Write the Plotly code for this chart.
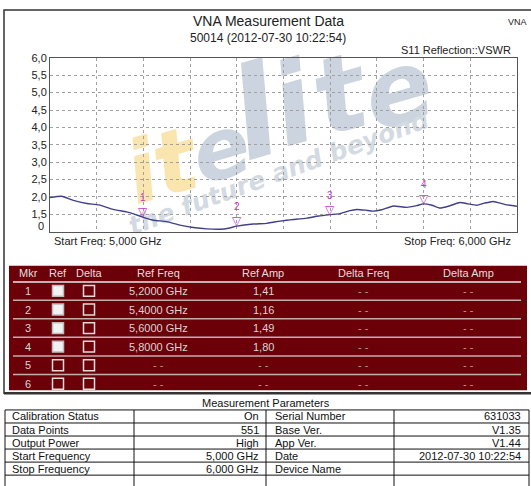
import plotly.graph_objects as go

W, H = 531, 486

# ---------------- data ----------------
freq_ghz = [5.000, 5.025, 5.050, 5.079, 5.105, 5.135, 5.164, 5.182, 5.200, 5.221,
            5.250, 5.278, 5.307, 5.336, 5.364, 5.382, 5.400, 5.435, 5.464, 5.480,
            5.507, 5.521, 5.550, 5.575, 5.600, 5.621, 5.640, 5.657, 5.675, 5.692,
            5.710, 5.735, 5.764, 5.785, 5.800, 5.818, 5.835, 5.855, 5.878, 5.895,
            5.914, 5.930, 5.949, 5.975, 6.000]
vswr = [1.98, 2.02, 1.90, 1.81, 1.77, 1.64, 1.57, 1.50, 1.41, 1.33,
        1.29, 1.19, 1.12, 1.08, 1.07, 1.10, 1.16, 1.22, 1.24, 1.28,
        1.33, 1.35, 1.39, 1.45, 1.49, 1.52, 1.60, 1.64, 1.62, 1.59,
        1.63, 1.74, 1.70, 1.75, 1.80, 1.76, 1.68, 1.74, 1.84, 1.80,
        1.76, 1.82, 1.87, 1.78, 1.73]

marker_ids = ["1", "2", "3", "4", "5", "6"]
marker_freq = [5.2, 5.4, 5.6, 5.8]
marker_amp = [1.41, 1.16, 1.49, 1.80]
marker_freq_text = ["5,2000 GHz", "5,4000 GHz", "5,6000 GHz", "5,8000 GHz", "- -", "- -"]
marker_amp_text = ["1,41", "1,16", "1,49", "1,80", "- -", "- -"]
delta_freq_text = ["- -"] * 6
delta_amp_text = ["- -"] * 6
ref_checked = [True, True, True, True, False, False]
table_headers = ["Mkr", "Ref", "Delta", "Ref Freq", "Ref Amp", "Delta Freq", "Delta Amp"]

y_tickvals = [1.5, 2.0, 2.5, 3.0, 3.5, 4.0, 4.5, 5.0, 5.5, 6.0]
y_ticktext = ["1,5", "2,0", "2,5", "3,0", "3,5", "4,0", "4,5", "5,0", "5,5", "6,0"]

param_left_names = ["Calibration Status", "Data Points", "Output Power", "Start Frequency", "Stop Frequency", ""]
param_left_vals = ["On", "551", "High", "5,000 GHz", "6,000 GHz", ""]
param_right_names = ["Serial Number", "Base Ver.", "App Ver.", "Date", "Device Name", ""]
param_right_vals = ["631033", "V1.35", "V1.44", "2012-07-30 10:22:54", "", ""]

FONT = "Liberation Sans, Arial, sans-serif"

def px(x):
    return x / W

def py(y):
    return 1 - y / H

def text(t, x, y, size=11, color="#222222", xanchor="center", yanchor="middle", family=FONT):
    return dict(text=t, x=px(x), y=py(y), xref="paper", yref="paper", xanchor=xanchor,
                yanchor=yanchor, showarrow=False, font=dict(family=family, size=size, color=color))

fig = go.Figure()
fig.add_trace(go.Scatter(x=freq_ghz, y=vswr, mode="lines",
                         line=dict(color="#40408a", width=1.4, shape="spline", smoothing=0.5),
                         hoverinfo="skip", showlegend=False))

shapes = []
ann = []

# ---- watermark (below grid) ----
wm_letters = [
    ("i", 140, 162, 86, "#fbe5ae"),
    ("t", 173, 152, 88, "#fbe5ae"),
    ("e", 219, 139, 84, "#ccd5df"),
    ("l", 252, 100, 126, "#ccd5df"),
    ("i", 290, 92, 112, "#ccd5df"),
    ("t", 337, 82, 106, "#ccd5df"),
    ("e", 396, 78, 100, "#ccd5df"),
]
for ch, cx, cy, sz, col in wm_letters:
    shapes.append(dict(type="rect", xref="paper", yref="paper",
                       x0=px(cx - 1), x1=px(cx + 1), y0=py(cy + 1), y1=py(cy - 1),
                       line=dict(width=0), fillcolor="rgba(0,0,0,0)", layer="below",
                       label=dict(text=ch, textangle=-16, textposition="middle center",
                                  font=dict(family="DejaVu Sans, sans-serif", size=sz, color=col,
                                            weight="bold", style="italic"))))
shapes.append(dict(type="rect", xref="paper", yref="paper",
                   x0=px(277), x1=px(279), y0=py(168), y1=py(166),
                   line=dict(width=0), fillcolor="rgba(0,0,0,0)", layer="below",
                   label=dict(text="the future and beyond", textangle=-20, textposition="middle center",
                              font=dict(family="DejaVu Sans, sans-serif", size=25, color="#d3dae2",
                                        weight="bold", style="italic"))))

# ---- outer frame ----
shapes.append(dict(type="rect", xref="paper", yref="paper", x0=px(4), x1=px(540), y0=py(392), y1=py(4),
                   line=dict(color="#333333", width=1.5), fillcolor="rgba(0,0,0,0)"))
shapes.append(dict(type="line", xref="paper", yref="paper", x0=px(4), x1=px(540), y0=py(392), y1=py(392),
                   line=dict(color="#333333", width=2.5)))

# ---- titles ----
ann.append(text("VNA Measurement Data", 268, 15, size=14))
ann.append(text("50014 (2012-07-30 10:22:54)", 268, 32, size=12))
ann.append(text("VNA", 529, 16, size=9, xanchor="right"))
ann.append(text("S11 Reflection::VSWR", 513, 45, size=11, xanchor="right"))
ann.append(text("Start Freq: 5,000 GHz", 52, 238, size=11, xanchor="left"))
ann.append(text("Stop Freq: 6,000 GHz", 513, 238, size=11, xanchor="right"))
ann.append(text("0", 46, 223, size=11, xanchor="right"))

# ---- markers on the trace ----
for i, (f, a) in enumerate(zip(marker_freq, marker_amp)):
    ann.append(dict(text="▽", x=f, y=a, xref="x", yref="y", xanchor="center", yanchor="bottom", yshift=-4,
                    showarrow=False, font=dict(family="DejaVu Sans", size=12, color="#cc33cc")))
    ann.append(dict(text=marker_ids[i], x=f, y=a, xref="x", yref="y", xanchor="center", yanchor="bottom",
                    yshift=12, showarrow=False, font=dict(family=FONT, size=10, color="#cc33cc")))

# ---- marker table ----
MAROON = "#6b0009"
shapes.append(dict(type="rect", xref="paper", yref="paper", x0=px(9), x1=px(527), y0=py(389), y1=py(263),
                   line=dict(width=0), fillcolor=MAROON))
shapes.append(dict(type="line", xref="paper", yref="paper", x0=px(13), x1=px(521), y0=py(279.5), y1=py(279.5),
                   line=dict(color="#e8e8e8", width=1.5)))
col_x = [28, 58, 89, 158, 263, 363, 468]
header_y = 270.5
row_y0, row_h = 288.5, 18.8
for cx, h in zip(col_x, table_headers):
    ann.append(text(h, cx, header_y, size=11, color="#e2dede"))
for r in range(len(marker_ids)):
    yc = row_y0 + r * row_h
    if r < len(marker_ids) - 1:
        ysep = yc + row_h / 2
        shapes.append(dict(type="line", xref="paper", yref="paper", x0=px(13), x1=px(521),
                           y0=py(ysep), y1=py(ysep), line=dict(color="#c4aeae", width=1.5)))
    for bx, checked in ((58, ref_checked[r]), (89, False)):
        shapes.append(dict(type="rect", xref="paper", yref="paper",
                           x0=px(bx - 5.5), x1=px(bx + 5.5), y0=py(yc + 5.5), y1=py(yc - 5.5),
                           line=dict(color="#bdbdbd" if checked else "#e6dada", width=1.5),
                           fillcolor="#f2f2f2" if checked else MAROON))
    texts = [marker_ids[r], None, None, marker_freq_text[r], marker_amp_text[r],
             delta_freq_text[r], delta_amp_text[r]]
    for cx, t in zip(col_x, texts):
        if t is None:
            continue
        col = "#b89a9a" if t == "- -" else "#dcd4d4"
        ann.append(text(t, cx, yc, size=11, color=col))

# ---- measurement parameters table ----
ann.append(text("Measurement Parameters", 266, 402, size=11, color="#111111"))
tcols = [5, 134, 266, 394, 529]
trow0, trh = 409, 13.2
n_rows = len(param_left_names)
for c in tcols:
    shapes.append(dict(type="line", xref="paper", yref="paper", x0=px(c), x1=px(c),
                       y0=py(trow0), y1=py(trow0 + n_rows * trh), line=dict(color="#111111", width=1)))
for r in range(n_rows + 1):
    yy = trow0 + r * trh
    shapes.append(dict(type="line", xref="paper", yref="paper", x0=px(tcols[0]), x1=px(tcols[-1]),
                       y0=py(yy), y1=py(yy), line=dict(color="#111111", width=1)))
for r in range(n_rows):
    yc = trow0 + r * trh + trh / 2
    cells = [(param_left_names[r], tcols[0] + 5, "left"), (param_left_vals[r], tcols[2] - 5, "right"),
             (param_right_names[r], tcols[2] + 7, "left"), (param_right_vals[r], tcols[4] - 6, "right")]
    for t, xx, anc in cells:
        if t:
            ann.append(text(t, xx, yc, size=11, color="#111111", xanchor=anc))

fig.update_layout(
    width=W, height=H, margin=dict(l=0, r=0, t=0, b=0),
    paper_bgcolor="white", plot_bgcolor="rgba(0,0,0,0)",
    showlegend=False, shapes=shapes, annotations=ann,
    xaxis=dict(domain=[px(50), px(517)], range=[5.0, 6.0], dtick=0.1, tick0=5.0,
               showticklabels=False, ticks="", showgrid=True, gridcolor="#a0a0a0", griddash="dot",
               gridwidth=1, showline=True, linecolor="#555555", linewidth=1, mirror=True,
               zeroline=False, fixedrange=True),
    yaxis=dict(domain=[py(228.5), py(52.5)], range=[1.0, 6.0], tickvals=y_tickvals, ticktext=y_ticktext,
               ticks="", showgrid=True, gridcolor="#a0a0a0", griddash="dot", gridwidth=1,
               showline=True, linecolor="#555555", linewidth=1, mirror=True, zeroline=False,
               tickfont=dict(family=FONT, size=11, color="#222222"), fixedrange=True),
)

fig.write_html("out.html", config={"displayModeBar": False, "staticPlot": True},
               post_script="document.body.style.margin='0';document.body.style.overflow='hidden';")
